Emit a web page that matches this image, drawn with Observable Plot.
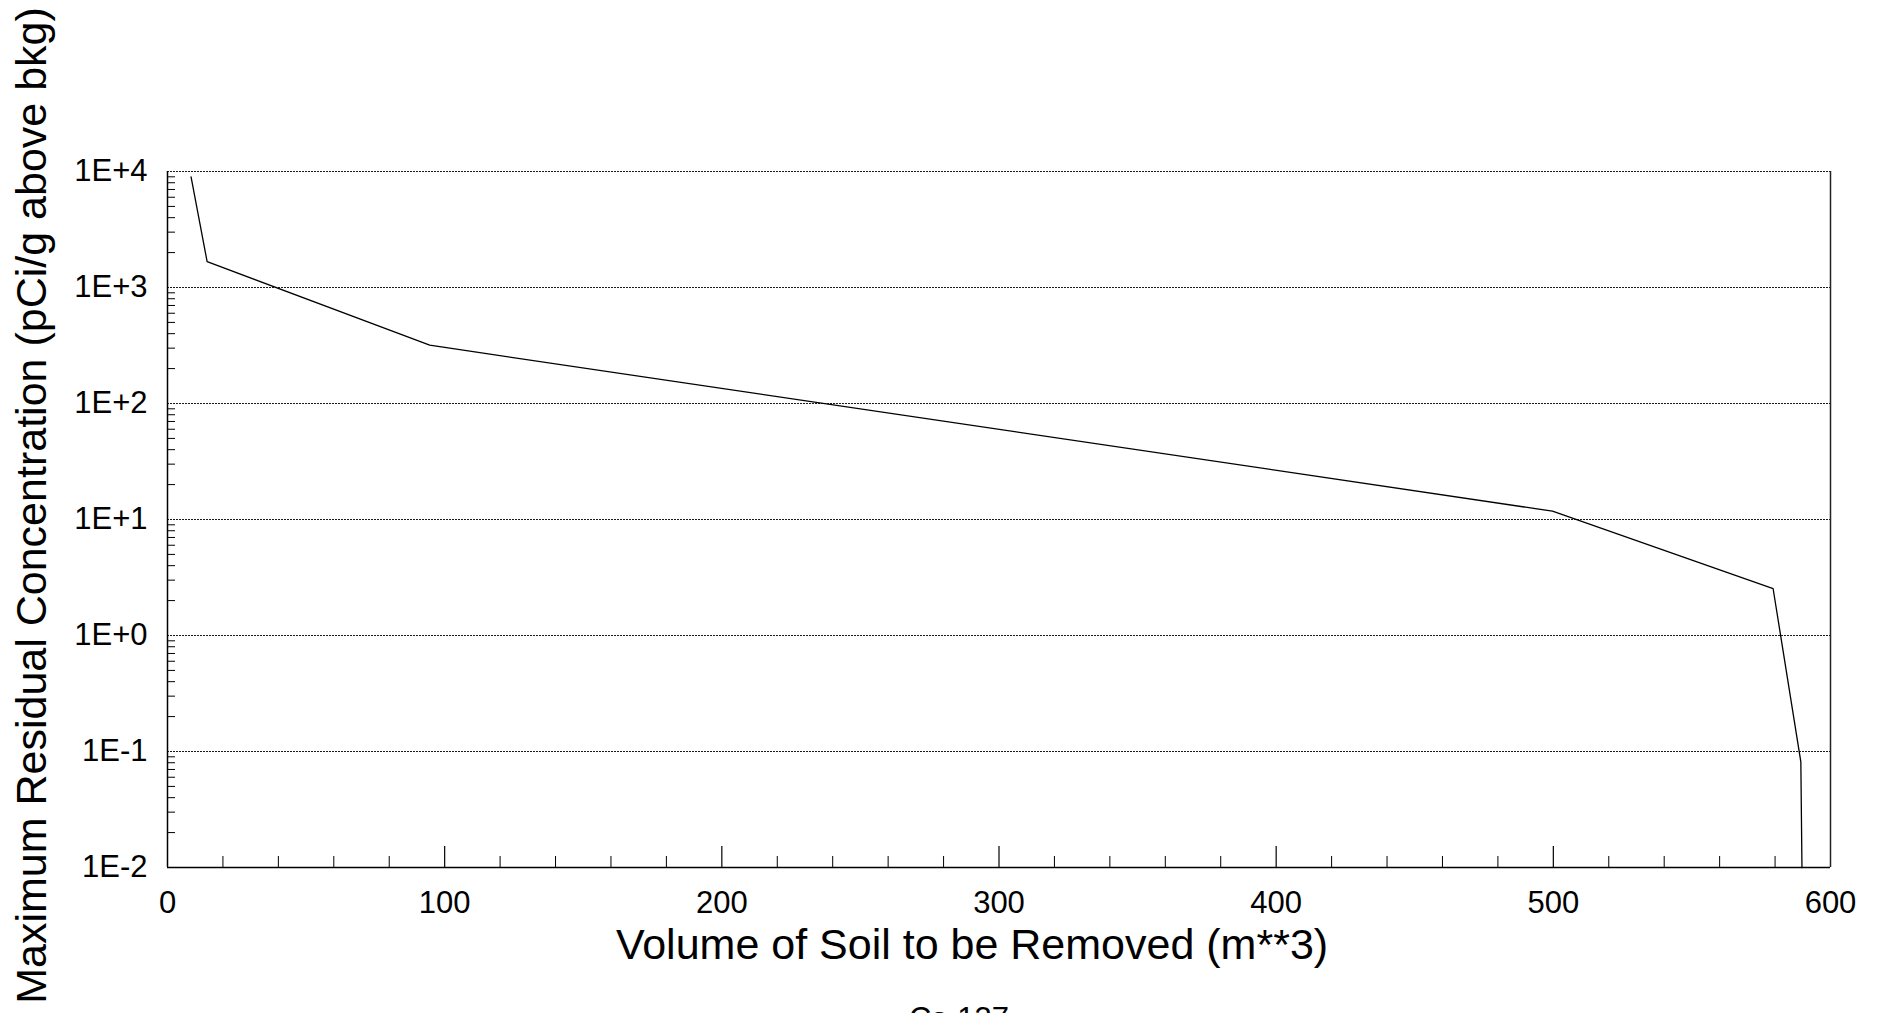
<!DOCTYPE html>
<html>
<head>
<meta charset="utf-8">
<script src="https://cdn.jsdelivr.net/npm/d3@7"></script>
<script src="https://cdn.jsdelivr.net/npm/@observablehq/plot@0.6"></script>
<style>
  html, body { margin: 0; padding: 0; background: #fff; overflow: hidden; }
</style>
</head>
<body>
<div id="chart"></div>
<script>
// ---- data ----
const volume = [8.5, 14.3, 94.6, 499.7, 579.3, 589.3, 589.7];          // m**3
const concentration = [9000, 1670, 318, 11.8, 2.53, 0.0815, 0.01];     // pCi/g above bkg

const xTickValues = [0, 100, 200, 300, 400, 500, 600];
const xTickLabels = ["0", "100", "200", "300", "400", "500", "600"];
const xMinorTicks = [20, 40, 60, 80, 120, 140, 160, 180, 220, 240, 260, 280,
                     320, 340, 360, 380, 420, 440, 460, 480, 520, 540, 560, 580];
const yTickValues = [0.01, 0.1, 1, 10, 100, 1000, 10000];
const yTickLabels = ["1E-2", "1E-1", "1E+0", "1E+1", "1E+2", "1E+3", "1E+4"];
const yMinorTicks = yTickValues.slice(0, -1).flatMap(d => [2,3,4,5,6,7,8,9].map(k => +(k * d).toPrecision(3)));

const xTitle = "Volume of Soil to be Removed (m**3)";
const yTitle = "Maximum Residual Concentration (pCi/g above bkg)";
const caption = "Cs-137";

const series = volume.map((v, i) => ({volume: v, conc: concentration[i]}));

// ---- layout ----
const W = 1883, H = 1013;
const mL = 167, mR = 53, mT = 171, mB = 146;
const frameW = W - mL - mR, frameH = H - mT - mB;
const FONT = "'Liberation Sans', Arial, Helvetica, sans-serif";

const chart = Plot.plot({
  width: W,
  height: H,
  marginLeft: mL,
  marginRight: mR,
  marginTop: mT,
  marginBottom: mB,
  style: {fontFamily: FONT, fontSize: "31px", background: "#fff", color: "#000", overflow: "visible"},
  x: {domain: [0, 600], label: null},
  y: {type: "log", domain: [0.01, 10000], label: null},
  marks: [
    // dashed decade gridlines
    Plot.ruleY(yTickValues.slice(1), {y: d => d, stroke: "#000", strokeWidth: 1, strokeDasharray: "2,1", strokeOpacity: 0.9}),
    // minor y ticks (inward, left side)
    Plot.ruleY(yMinorTicks, {y: d => d, stroke: "#000", strokeWidth: 1, insetRight: frameW - 8}),
    // x ticks (inward, bottom)
    Plot.ruleX(xTickValues.slice(1, -1), {x: d => d, stroke: "#000", strokeWidth: 1.2, insetTop: frameH - 21}),
    Plot.ruleX(xMinorTicks, {x: d => d, stroke: "#000", strokeWidth: 1, insetTop: frameH - 11}),
    // borders
    Plot.ruleX([0], {stroke: "#000", strokeWidth: 1.5}),
    Plot.ruleX([600], {stroke: "#222", strokeWidth: 1.5}),
    Plot.ruleY([0.01], {stroke: "#000", strokeWidth: 1.5}),
    // axes labels
    Plot.axisX(xTickValues, {tickSize: 0, tickPadding: 23, fontSize: 31, tickFormat: d => xTickLabels[xTickValues.indexOf(d)], label: null}),
    Plot.axisY(yTickValues, {tickSize: 0, tickPadding: 20, fontSize: 31, tickFormat: d => yTickLabels[yTickValues.indexOf(d)], label: null}),
    // data line
    Plot.line(series, {x: "volume", y: "conc", stroke: "#000", strokeWidth: 1.3}),
    // titles
    Plot.text([xTitle], {frameAnchor: "bottom", text: d => d, dx: -27, dy: 91, lineAnchor: "bottom", textAnchor: "middle", fontSize: 43, fill: "#000"}),
    Plot.text([caption], {frameAnchor: "bottom", text: d => d, dx: -40, dy: 161, lineAnchor: "bottom", textAnchor: "middle", fontSize: 31, fill: "#000"}),
    Plot.text([yTitle], {frameAnchor: "left", text: d => d, rotate: -90, dx: 45 - mL, dy: -14, lineAnchor: "bottom", textAnchor: "middle", fontSize: 43, fill: "#000"})
  ]
});

document.getElementById("chart").appendChild(chart);
</script>
</body>
</html>
